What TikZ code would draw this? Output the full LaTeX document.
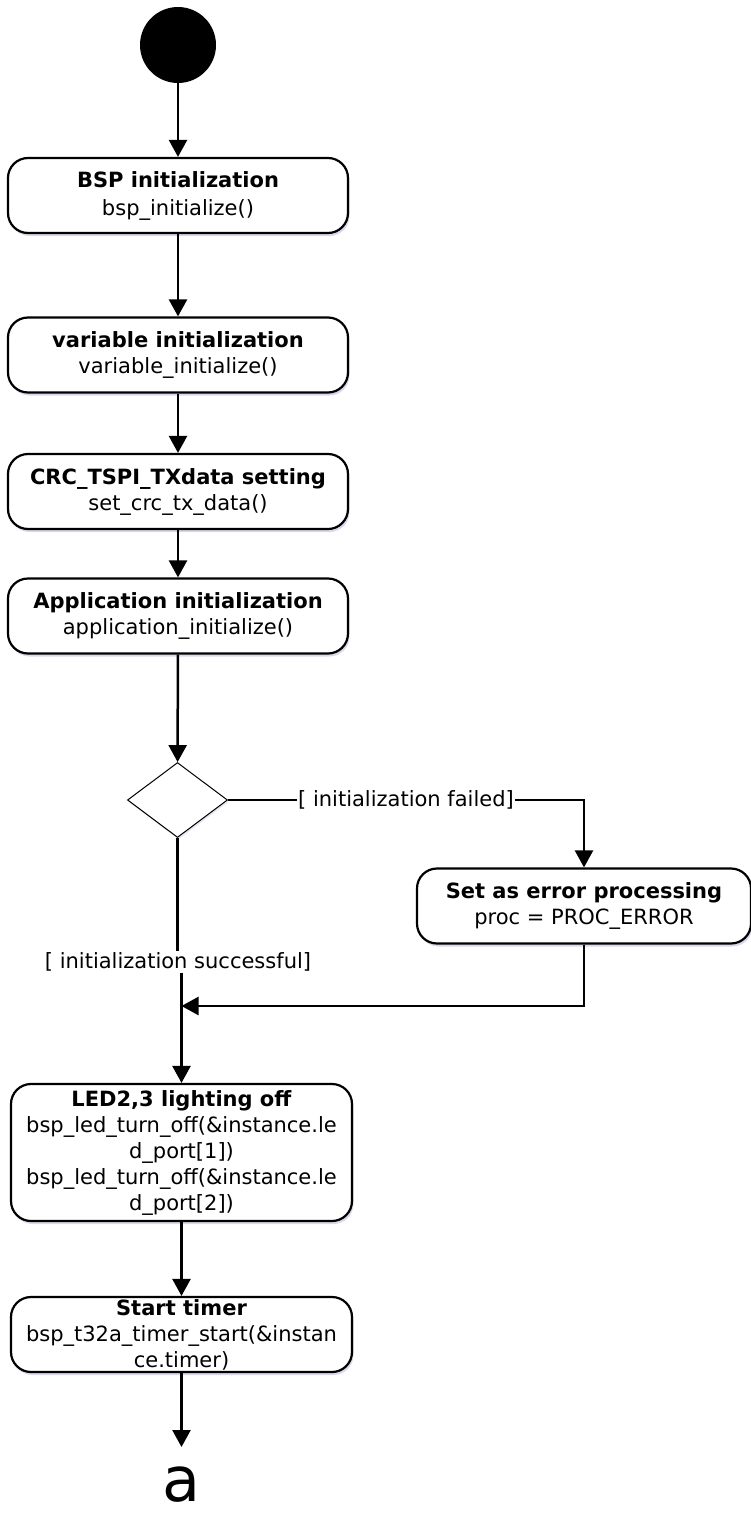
\documentclass[tikz,border=0pt]{standalone}
\usepackage{fontspec}
\setmainfont{DejaVu Sans}
\usetikzlibrary{arrows.meta, positioning, shadows, shapes.geometric}

\begin{document}
\begin{tikzpicture}[x=1pt, y=-1pt,
  actnode/.style={rectangle, rounded corners=20pt, draw=black, line width=2.2pt, fill=white, minimum width=340pt, minimum height=75pt, align=center, inner sep=2pt, font=\fontsize{21}{26}\selectfont, drop shadow={shadow xshift=1.5pt, shadow yshift=-3pt, fill=blue!50!black, opacity=0.15}},
  decnode/.style={diamond, draw=black, line width=1pt, fill=white, minimum width=100pt, minimum height=75pt, inner sep=0pt, drop shadow={shadow xshift=1pt, shadow yshift=-2pt, fill=blue!50!black, opacity=0.1}},
  flow/.style={-{Triangle[width=18pt, length=17pt]}, line width=2.5pt},
  guard/.style={fill=white, inner sep=1pt, font=\fontsize{21}{26}\selectfont}]
\useasboundingbox [fill=white] (0,0) rectangle (751,1515);

\node (start) [circle, fill=black, minimum size=76pt, inner sep=0pt] at (178,45) {};
\node (bsp) [actnode] at (178,195.5) {\textbf{BSP initialization}\\[2pt]bsp\_initialize()};
\node (var) [actnode] at (178,355) {\textbf{variable initialization}\\variable\_initialize()};
\node (crc) [actnode] at (178,491.5) {\textbf{CRC\_TSPI\_TXdata setting}\\set\_crc\_tx\_data()};
\node (app) [actnode] at (178,616) {\textbf{Application initialization}\\application\_initialize()};
\node (dec) [decnode] at (177.5,800) {};
\node (err) [actnode, minimum width=334pt] at (584,906) {\textbf{Set as error processing}\\proc = PROC\_ERROR};
\node (succ) [guard] at (178,962) {[ initialization successful]};
\coordinate (join) at (181.5,1006);
\node (led) [actnode, minimum width=341pt, minimum height=137pt] at (181.5,1152.5) {\textbf{LED2,3 lighting off}\\bsp\_led\_turn\_off(\&instance.le\\d\_port[1])\\bsp\_led\_turn\_off(\&instance.le\\d\_port[2])};
\node (tmr) [actnode, minimum width=341pt] at (181.5,1334.5) {\textbf{Start timer}\\bsp\_t32a\_timer\_start(\&instan\\ce.timer)};
\node (cont) [anchor=north, inner sep=0pt, text height=54pt, font=\fontsize{62}{62}\selectfont] at (181.5,1447) {a};

\draw [flow] (start) -- (bsp);
\draw [flow] (bsp) -- (var);
\draw [flow] (var) -- (crc);
\draw [flow] (crc) -- (app);
\draw [flow] (app) -- (dec);
\draw [flow] (dec.east) -| (err.north) node [guard, pos=0.25] {[ initialization failed]};
\draw [line width=2.5pt] (dec.south) -- (dec.south |- succ.north);
\draw [flow] (err.south) |- (join);
\draw [flow] (succ.south -| join) -- (led.north);
\draw [flow] (led) -- (tmr);
\draw [flow] (tmr) -- (cont.north);
\end{tikzpicture}
\end{document}
